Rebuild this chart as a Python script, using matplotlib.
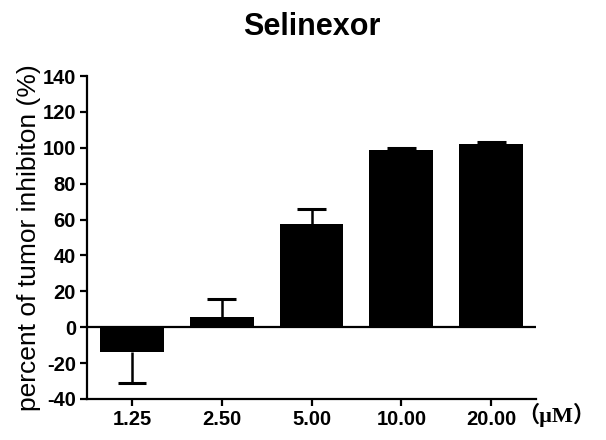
import numpy as np
import matplotlib
matplotlib.use("Agg")
import matplotlib.pyplot as plt

doses = ["1.25", "2.50", "5.00", "10.00", "20.00"]
inhibition = [-14, 5.5, 57.5, 98.5, 102]
err = [17, 10, 8.5, 1.5, 1]

plt.rcParams['font.family'] = ['Liberation Sans', 'DejaVu Sans']
plt.rcParams['axes.unicode_minus'] = False

fig = plt.figure(figsize=(6.06, 4.4), dpi=100)
ax = fig.add_axes([0.1436, 0.0932, 0.741, 0.734])

x = np.arange(len(doses))
ax.bar(x, inhibition, width=0.71, color='black', zorder=2)

# one-sided error bars pointing away from zero
cap = 0.16
for xi, v, e in zip(x, inhibition, err):
    end = v - e if v < 0 else v + e
    ax.vlines(xi, v, end, color='black', lw=1.8, zorder=1)
    ax.hlines(end, xi - cap, xi + cap, color='black', lw=2.2, zorder=1)

ax.axhline(0, color='black', lw=1.6, zorder=3)

ax.set_xlim(-0.5, 4.5)
ax.set_ylim(-40, 140)
ax.set_yticks(range(-40, 141, 20))
ax.set_xticks(x)
ax.set_xticklabels(doses)
for s in ['top', 'right']:
    ax.spines[s].set_visible(False)
for s in ['left', 'bottom']:
    ax.spines[s].set_linewidth(1.6)
ax.tick_params(width=1.6, length=5, labelsize=14.5, pad=3)
for lab in ax.get_xticklabels() + ax.get_yticklabels():
    lab.set_fontweight('bold')

ax.set_ylabel("percent of tumor inhibiton (%)", fontsize=19, labelpad=1)
fig.text(0.515, 1 - 35 / 440, "Selinexor", fontsize=22, fontweight='bold',
         ha='center', va='baseline')
fig.text(0.918, 0.058, "（μM）", fontsize=16, fontweight='bold',
         family=['Liberation Serif', 'Noto Sans CJK SC'], ha='center', va='center')

fig.savefig("out.png", dpi=100)
